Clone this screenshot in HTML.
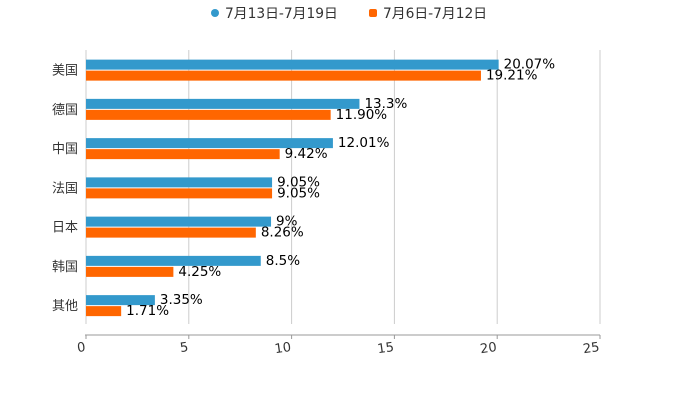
<!DOCTYPE html>
<html><head><meta charset="utf-8"><style>
body{margin:0;background:#fff;}
svg{display:block;font-family:"DejaVu Sans","Liberation Sans","Noto Sans CJK SC",sans-serif;}
</style></head><body>
<svg id="c" width="700" height="400">
<g>
<circle cx="215" cy="13" r="4" fill="#3399cc"/>
<text x="225" y="18" font-size="13.8" fill="#333">7月13日-7月19日</text>
<rect x="369" y="9" width="8" height="8" rx="2" fill="#ff6600"/>
<text x="383" y="18" font-size="13.8" fill="#333">7月6日-7月12日</text>
</g>
</svg>
<script>
const categories=["美国","德国","中国","法国","日本","韩国","其他"];
const seriesA=[20.07,13.3,12.01,9.05,9,8.5,3.35];
const labelsA=["20.07%","13.3%","12.01%","9.05%","9%","8.5%","3.35%"];
const seriesB=[19.21,11.90,9.42,9.05,8.26,4.25,1.71];
const labelsB=["19.21%","11.90%","9.42%","9.05%","8.26%","4.25%","1.71%"];
const ticks=[0,5,10,15,20,25];
const svg=document.getElementById('c');
const NS='http://www.w3.org/2000/svg';
const x0=86,xw=514,xmax=25,plotTop=50,band=39.25;
const X=v=>x0+v/xmax*xw;
const Y=i=>plotTop+band*i+band/2;
function mk(t,a){const e=document.createElementNS(NS,t);for(const k in a)e.setAttribute(k,a[k]);svg.appendChild(e);return e;}
ticks.forEach((t,i)=>{
 const g=mk('line',{x1:X(t),x2:X(t),y1:plotTop,y2:324,stroke:'#ccc','stroke-width':1});
 
 
 const tk=mk('line',{x1:X(t),x2:X(t),y1:335,y2:339,stroke:'#999'});
 
 
 const tl=mk('text',{x:X(t),y:351,'font-size':13,fill:'#333','text-anchor':'end',transform:`rotate(-8 ${X(t)} 351)`});
 tl.textContent=t;
 
 
});
const ax=mk('line',{x1:x0-1,x2:X(25),y1:335,y2:335,stroke:'#999'});


categories.forEach((c,i)=>{
 const cy=Y(i);
 const l=mk('text',{x:78,y:cy+5,'font-size':13,fill:'#333','text-anchor':'end'});
 l.textContent=c;
 
 
 const a=mk('rect',{x:x0,y:cy-10,width:X(seriesA[i])-x0,height:10,fill:'#3399cc'});
 
 
 const b=mk('rect',{x:x0,y:cy+1,width:X(seriesB[i])-x0,height:10,fill:'#ff6600'});
 
 
 const ta=mk('text',{x:X(seriesA[i])+5,y:cy-1,'font-size':13.5,fill:'#000'});
 ta.textContent=labelsA[i];
 
 
 const tb=mk('text',{x:X(seriesB[i])+5,y:cy+10,'font-size':13.5,fill:'#000'});
 tb.textContent=labelsB[i];
 
 
});
</script>
</body></html>
